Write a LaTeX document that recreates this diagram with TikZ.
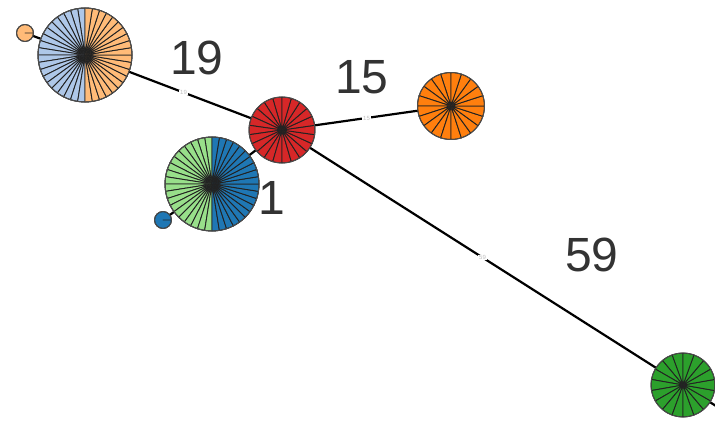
\documentclass[tikz,border=0pt]{standalone}
\usepackage{fontspec}
\setmainfont{Liberation Sans}

\definecolor{hapblue}{HTML}{AEC7E8}
\definecolor{haporange}{HTML}{FFBB78}
\definecolor{hapred}{HTML}{D62728}
\definecolor{hapdarkorange}{HTML}{FF7F0E}
\definecolor{haplightgreen}{HTML}{98DF8A}
\definecolor{hapdeepblue}{HTML}{1F77B4}
\definecolor{hapgreen}{HTML}{2CA02C}
\definecolor{spoke}{HTML}{222222}

% fan of wedges: centre, radius, start angle, count, total, colour
\newcommand\wedgefan[6]{%
  \pgfmathsetmacro\wstep{360/#5}%
  \foreach \k in {1,...,#4}{%
    \pgfmathsetmacro\wa{#3+(\k-1)*\wstep}%
    \filldraw[fill=#6, draw=spoke, line width=0.9pt, line join=round]
      (#1) -- ++(\wa:#2) arc[start angle=\wa, delta angle=\wstep, radius=#2] -- cycle;
  }%
  \draw[draw=black!70, line width=0.9pt] (#1) circle[radius=#2];
}

\begin{document}
\begin{tikzpicture}[x=1pt, y=1pt,
    hap/.style={circle, inner sep=0pt, outer sep=0pt},
    link/.style={line width=2.2pt, black},
    count/.style={font=\fontsize{48}{50}\selectfont, text=black!80, inner sep=0pt},
    tick/.style={font=\fontsize{6}{6}\selectfont, text=black!25, fill=white, inner sep=0.8pt},
  ]

  % ---------------- frame -----------------------------------------------
  \useasboundingbox (0,0) rectangle (715,-422);
  \clip (0,0) rectangle (715,-422);
  \fill[white] (0,0) rectangle (715,-422);

  % ---------------- haplotypes (placed, drawn later) --------------------
  \node[hap, minimum size=94pt] (bo)  at (85,-55)   {};
  \node[hap, minimum size=18pt] (so)  at (25,-33)   {};
  \node[hap, minimum size=66pt] (red) at (282,-130) {};
  \node[hap, minimum size=67pt] (org) at (451,-106) {};
  \node[hap, minimum size=94pt] (gb)  at (212,-184) {};
  \node[hap, minimum size=18pt] (sb)  at (163,-220) {};
  \node[hap, minimum size=64pt] (grn) at (683,-385) {};
  \coordinate (off) at (760,-434);

  % ---------------- links ------------------------------------------------
  \draw[link] (so.center) -- (bo.center);
  \draw[link] (bo.center) -- node[tick] {19} (red.center);
  \draw[link] (red.center) -- node[tick] {15} (org.center);
  \draw[link] (red.center) -- node[tick] {59} (grn.center);
  \draw[link] (red.center) -- (gb.center);
  \draw[link] (sb.center) -- (gb.center);
  \draw[link] (grn.center) -- (off);

  % ---------------- pies -------------------------------------------------
  \wedgefan{bo.center}{47}{90}{20}{40}{hapblue}
  \wedgefan{bo.center}{47}{270}{20}{40}{haporange}
  \wedgefan{so.center}{8.5}{0}{1}{1}{haporange}
  \wedgefan{red.center}{33}{90}{22}{22}{hapred}
  \wedgefan{org.center}{33.5}{90}{20}{20}{hapdarkorange}
  \wedgefan{gb.center}{47}{90}{20}{40}{haplightgreen}
  \wedgefan{gb.center}{47}{270}{20}{40}{hapdeepblue}
  \wedgefan{sb.center}{8.5}{0}{1}{1}{hapdeepblue}
  \wedgefan{grn.center}{32}{90}{18}{18}{hapgreen}

  % ---------------- counts -----------------------------------------------
  \node[count] (c19) at (197,-58)  {19};
  \node[count] (c15) at (362,-77)  {15};
  \node[count] (c1)  at (272,-198) {1};
  \node[count] (c59) at (592,-255) {59};

\end{tikzpicture}
\end{document}
